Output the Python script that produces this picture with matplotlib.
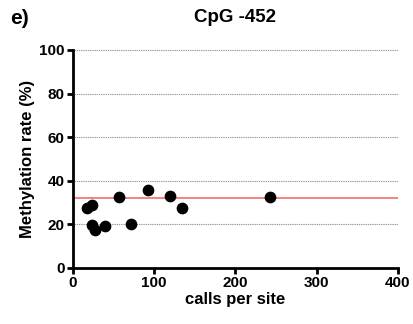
import numpy as np
import matplotlib
matplotlib.use("Agg")
import matplotlib.pyplot as plt

plt.rcParams['font.family'] = ['Liberation Sans', 'DejaVu Sans']

# calls per site vs methylation rate, CpG -452
calls = [17, 23, 24, 27, 40, 57, 72, 93, 119, 134, 243]
meth = [27.4, 28.9, 19.7, 17.6, 19.3, 32.4, 20.2, 35.8, 33.0, 27.4, 32.4]
mean_line = 32.3

fig = plt.figure(figsize=(4.14, 3.24), dpi=100)
ax = fig.add_axes([0.176, 0.173, 0.785, 0.673])

for yv in [20, 40, 60, 80, 100]:
    ax.plot([2, 400], [yv, yv], color='#999999', lw=0.8, ls=(0, (1.2, 0.8)), zorder=0, clip_on=False)
ax.plot([0, 400], [mean_line, mean_line], color='#f06060', lw=1.1, zorder=1)
ax.scatter(calls, meth, s=55, color='black', zorder=3)

ax.set_xlim(0, 400)
ax.set_ylim(0, 100)
ax.set_xticks([0, 100, 200, 300, 400])
ax.set_yticks([0, 20, 40, 60, 80, 100])
for s in ['top', 'right']:
    ax.spines[s].set_visible(False)
for s in ['left', 'bottom']:
    ax.spines[s].set_linewidth(2)
ax.tick_params(width=2, length=4, labelsize=11, pad=2)
for lab in ax.get_xticklabels() + ax.get_yticklabels():
    lab.set_fontweight('bold')
ax.set_xlabel('calls per site', fontsize=12, fontweight='bold', labelpad=1)
ax.set_ylabel('Methylation rate (%)', fontsize=12, fontweight='bold', labelpad=3)
ax.set_title('CpG -452', fontsize=13.5, fontweight='bold', pad=20)
fig.text(0.025, 0.925, 'e)', fontsize=15, fontweight='bold')

fig.savefig('out.png', dpi=100)
